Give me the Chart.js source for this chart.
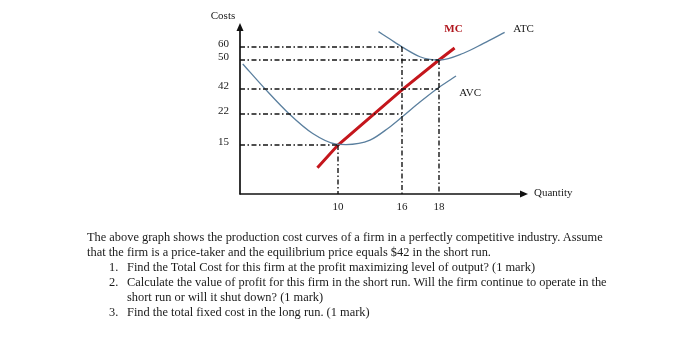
<!DOCTYPE html>
<html>
<head>
<meta charset="utf-8">
<script src="https://cdn.jsdelivr.net/npm/chart.js@4.4.1/dist/chart.umd.min.js"></script>
<style>
  html, body { margin: 0; padding: 0; background: #fff; }
  #wrap { position: relative; width: 700px; height: 356px; overflow: hidden; }
  #c { position: absolute; left: 0; top: 0; }
  #txt { position: absolute; left: 87px; top: 230px; font-family: "Liberation Serif", "Times New Roman", serif;
         font-size: 12.4px; line-height: 15px; color: #1a1a1a; white-space: nowrap; }
  #txt .l { height: 15px; }
  #txt .n { position: absolute; left: 22px; }
  #txt .t { position: absolute; left: 40px; }
</style>
</head>
<body>
<div id="wrap">
  <canvas id="c" width="700" height="356"></canvas>
  <div id="txt">
    <div class="l">The above graph shows the production cost curves of a firm in a perfectly competitive industry. Assume</div>
    <div class="l">that the firm is a price-taker and the equilibrium price equals $42 in the short run.</div>
    <div class="l"><span class="n">1.</span><span class="t">Find the Total Cost for this firm at the profit maximizing level of output? (1 mark)</span></div>
    <div class="l"><span class="n">2.</span><span class="t">Calculate the value of profit for this firm in the short run. Will the firm continue to operate in the</span></div>
    <div class="l"><span class="t">short run or will it shut down? (1 mark)</span></div>
    <div class="l"><span class="n">3.</span><span class="t">Find the total fixed cost in the long run. (1 mark)</span></div>
  </div>
</div>
<script>
// ---------------- data ----------------
const xTicks = [10, 16, 18];
const yTicks = [60, 50, 42, 22, 15];

// Marginal cost (straight red line)
const mcX = [7.9, 10, 16, 18, 19.4];
const mcY = [8, 15, 41.3, 50, 59.2];

// Average total cost
const atcX = [13.8, 14.9, 16.07, 16.97, 17.5, 18.09, 20.2, 22.0, 23.9];
const atcY = [66.4, 63.2, 59.5, 52.5, 50.5, 50, 55.2, 61.5, 66.1];

// Average variable cost
const avcX = [0.28, 2.58, 5.03, 7.42, 9.8, 10.75, 13.0, 14.7, 16.05, 16.97, 17.95, 18.99, 19.53];
const avcY = [48.9, 41.9, 22, 17.6, 15.2, 15.1, 16.1, 18.8, 21.5, 31.6, 42.3, 44.5, 45.6];

// Dash-dot guide lines
const hLevels = [60, 50, 42, 22, 15];   // horizontal guide at cost level ...
const hEnds   = [16, 18, 18, 16, 10];   // ... reaching to this quantity
const vQty    = [10, 16, 18];           // vertical guide at quantity ...
const vTops   = [15, 60, 50];           // ... from this cost level down

// ---------------- piecewise (schematic) scale ----------------
class PiecewiseScale extends Chart.LinearScale {
  getPixelForValue(value) {
    const bv = this.options.breakVals, bf = this.options.breakFracs;
    let i = 0;
    while (i < bv.length - 2 && value > bv[i + 1]) i++;
    const d = bf[i] + (value - bv[i]) / (bv[i + 1] - bv[i]) * (bf[i + 1] - bf[i]);
    return this.getPixelForDecimal(d);
  }
}
PiecewiseScale.id = 'piecewise';
PiecewiseScale.defaults = Chart.LinearScale.defaults;
Chart.register(PiecewiseScale);

const toPts = (xs, ys) => xs.map((x, i) => ({ x: x, y: ys[i] }));

const guideStyle = {
  borderColor: '#151515', borderWidth: 1.4, borderDash: [5, 2.5, 1.5, 2.5],
  pointRadius: 0, fill: false, tension: 0, clip: false
};
const datasets = [];
hLevels.forEach((lv, i) => datasets.push(Object.assign({
  data: [{ x: 0, y: lv }, { x: hEnds[i], y: lv }] }, guideStyle)));
vQty.forEach((q, i) => datasets.push(Object.assign({
  data: [{ x: q, y: vTops[i] }, { x: q, y: 0 }] }, guideStyle)));

const curveBlue = '#5a7f9e';
datasets.push({ label: 'AVC', data: toPts(avcX, avcY), borderColor: curveBlue, borderWidth: 1.3,
  pointRadius: 0, cubicInterpolationMode: 'monotone', clip: false });
datasets.push({ label: 'ATC', data: toPts(atcX, atcY), borderColor: curveBlue, borderWidth: 1.3,
  pointRadius: 0, cubicInterpolationMode: 'monotone', clip: false });
datasets.push({ label: 'MC', data: toPts(mcX, mcY), borderColor: '#c4161c', borderWidth: 3,
  pointRadius: 0, tension: 0, clip: false, borderCapStyle: 'butt' });

const SERIF = '"Liberation Serif", "Times New Roman", serif';

const decor = {
  id: 'decor',
  afterDatasetsDraw(chart) {
    const ctx = chart.ctx, a = chart.chartArea;
    const xs = chart.scales.x, ys = chart.scales.y;
    const x0 = xs.getPixelForValue(0), y0 = ys.getPixelForValue(0);
    ctx.save();
    ctx.strokeStyle = '#111'; ctx.fillStyle = '#111'; ctx.lineWidth = 1.7;
    // y axis
    ctx.beginPath(); ctx.moveTo(x0, y0 + 0.5); ctx.lineTo(x0, a.top + 6); ctx.stroke();
    ctx.beginPath(); ctx.moveTo(x0, a.top); ctx.lineTo(x0 - 3.5, a.top + 8); ctx.lineTo(x0 + 3.5, a.top + 8); ctx.closePath(); ctx.fill();
    // x axis
    ctx.beginPath(); ctx.moveTo(x0 - 0.5, y0); ctx.lineTo(a.right - 6, y0); ctx.stroke();
    ctx.beginPath(); ctx.moveTo(a.right, y0); ctx.lineTo(a.right - 8, y0 - 3.5); ctx.lineTo(a.right - 8, y0 + 3.5); ctx.closePath(); ctx.fill();

    ctx.fillStyle = '#1a1a1a';
    ctx.font = '11px ' + SERIF;
    ctx.textBaseline = 'middle';
    // y ticks
    ctx.textAlign = 'right';
    yTicks.forEach(v => ctx.fillText(String(v), x0 - 11, ys.getPixelForValue(v) - 3));
    // x ticks
    ctx.textAlign = 'center';
    xTicks.forEach(v => ctx.fillText(String(v), xs.getPixelForValue(v), y0 + 13));
    // axis titles
    ctx.fillText('Costs', x0 - 17, a.top - 7);
    ctx.textAlign = 'left';
    ctx.fillText('Quantity', a.right + 6, y0 - 0.5);
    // curve labels
    ctx.textAlign = 'center';
    ctx.fillText('ATC', xs.getPixelForValue(25.6), ys.getPixelForValue(66) - 3);
    ctx.fillText('AVC', xs.getPixelForValue(20.8), ys.getPixelForValue(38.5));
    ctx.fillStyle = '#b0161d';
    ctx.font = 'bold 11px ' + SERIF;
    ctx.fillText('MC', xs.getPixelForValue(19.3), ys.getPixelForValue(66) - 3);
    ctx.restore();
  }
};

new Chart(document.getElementById('c'), {
  type: 'line',
  data: { datasets: datasets },
  options: {
    responsive: false, animation: false, events: [],
    layout: { padding: { left: 240, right: 172, top: 23, bottom: 162 } },
    plugins: { legend: { display: false }, tooltip: { enabled: false } },
    scales: {
      x: { type: 'piecewise', display: false, min: 0, max: 26,
           breakVals: [0, 10, 16, 18, 26], breakFracs: [0, 98/288, 162/288, 199/288, 1] },
      y: { type: 'piecewise', display: false, min: 0, max: 70,
           breakVals: [0, 15, 22, 42, 50, 60, 70], breakFracs: [0, 49/171, 80/171, 105/171, 134/171, 147/171, 1] }
    }
  },
  plugins: [decor]
});
</script>
</body>
</html>
